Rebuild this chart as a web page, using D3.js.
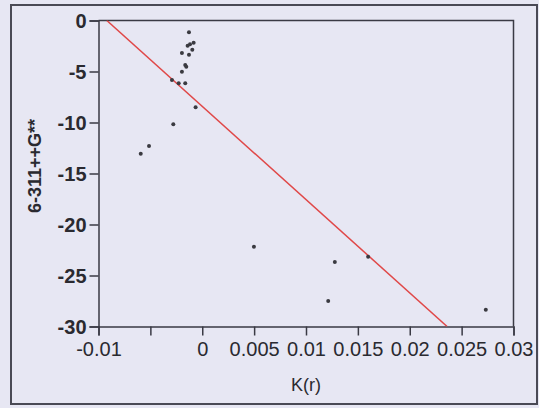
<!DOCTYPE html>
<html>
<head>
<meta charset="utf-8">
<script src="https://cdn.jsdelivr.net/npm/d3@7"></script>
<style>
  html, body { margin: 0; padding: 0; background: #e7e7f3; }
  svg { display: block; font-family: "Liberation Sans", Arial, sans-serif; }
</style>
</head>
<body>
<svg id="chart" width="539" height="408"></svg>
<script>
(function() {
  var kr = [-0.00128, -0.00141, -0.00118, -0.00083, -0.00096, -0.00196, -0.00128, -0.00164, -0.00154, -0.00196, -0.00292,
            -0.00227, -0.00164, -0.00064, -0.00279, -0.00593, -0.00513, 0.00498, 0.01278, 0.01599, 0.01214, 0.02733];
  var energy = [-1.16, -2.47, -2.33, -2.18, -2.86, -3.19, -3.35, -4.36, -4.53, -5.02, -5.83,
                -6.16, -6.16, -8.51, -10.18, -13.06, -12.30, -22.18, -23.68, -23.16, -27.50, -28.35];
  var fitX = [-0.0092, 0.0236];
  var fitY = [0, -30];
  var xTicks = [-0.01, -0.005, 0, 0.005, 0.01, 0.015, 0.02, 0.025, 0.03];
  var xLabels = ['-0.01', '', '0', '0.005', '0.01', '0.015', '0.02', '0.025', '0.03'];
  var yTicks = [0, -5, -10, -15, -20, -25, -30];
  var yLabels = ['0', '-5', '-10', '-15', '-20', '-25', '-30'];

  var svg = d3.select('#chart');
  var margin = { left: 98.5, top: 20.5, right: 513.5, bottom: 326.5 };

  var x = d3.scaleLinear().domain([-0.01, 0.03]).range([margin.left, margin.right]);
  var y = d3.scaleLinear().domain([-30, 0]).range([margin.bottom, margin.top]);

  // outer frame
  svg.append('rect').attr('x', 11).attr('y', 5).attr('width', 526).attr('height', 399)
    .attr('fill', 'none').attr('stroke', '#4a4a55').attr('stroke-width', 2);

  svg.append('defs').append('clipPath').attr('id', 'plot-clip')
    .append('rect').attr('x', margin.left).attr('y', margin.top)
    .attr('width', margin.right - margin.left).attr('height', margin.bottom - margin.top);

  // plot box (top + right)
  svg.append('path')
    .attr('d', 'M' + margin.left + ',' + margin.top + 'H' + margin.right + 'V' + margin.bottom)
    .attr('fill', 'none').attr('stroke', '#3a3a44').attr('stroke-width', 1.5);

  var xAxis = svg.append('g').attr('transform', 'translate(0,' + margin.bottom + ')')
    .call(d3.axisBottom(x).tickValues(xTicks).tickSize(9).tickPadding(6)
      .tickFormat(function(d, i) { return xLabels[i]; }));
  var yAxis = svg.append('g').attr('transform', 'translate(' + margin.left + ',0)')
    .call(d3.axisLeft(y).tickValues(yTicks).tickSize(9).tickPadding(3)
      .tickFormat(function(d, i) { return yLabels[i]; }));

  [xAxis, yAxis].forEach(function(g) {
    g.select('.domain').attr('stroke', '#3a3a44').attr('stroke-width', 1.5);
    g.selectAll('.tick line').attr('stroke', '#3a3a44').attr('stroke-width', 1.5);
    g.selectAll('.tick text').attr('fill', '#2a2a30').attr('font-size', 20)
      .attr('font-family', '"Liberation Sans", Arial, sans-serif');
  });
  yAxis.selectAll('.tick text').attr('font-weight', 'bold').attr('dy', '0.36em');

  // fit line
  svg.append('line').attr('clip-path', 'url(#plot-clip)')
    .attr('x1', x(fitX[0])).attr('y1', y(fitY[0]))
    .attr('x2', x(fitX[1])).attr('y2', y(fitY[1]))
    .attr('stroke', '#e04848').attr('stroke-width', 1.5);

  // points
  svg.append('g').selectAll('circle').data(kr).enter().append('circle')
    .attr('cx', function(d) { return x(d); })
    .attr('cy', function(d, i) { return y(energy[i]); })
    .attr('r', 2)
    .attr('fill', '#3a3a40');

  svg.append('text').attr('x', 306).attr('y', 391).attr('text-anchor', 'middle')
    .attr('font-size', 18).attr('fill', '#2a2a30').text('K(r)');

  svg.append('text').attr('transform', 'translate(41,166) rotate(-90)')
    .attr('text-anchor', 'middle').attr('font-size', 18).attr('font-weight', 'bold')
    .attr('fill', '#2a2a30').text('6-311++G**');
}).call(this);
</script>
</body>
</html>
